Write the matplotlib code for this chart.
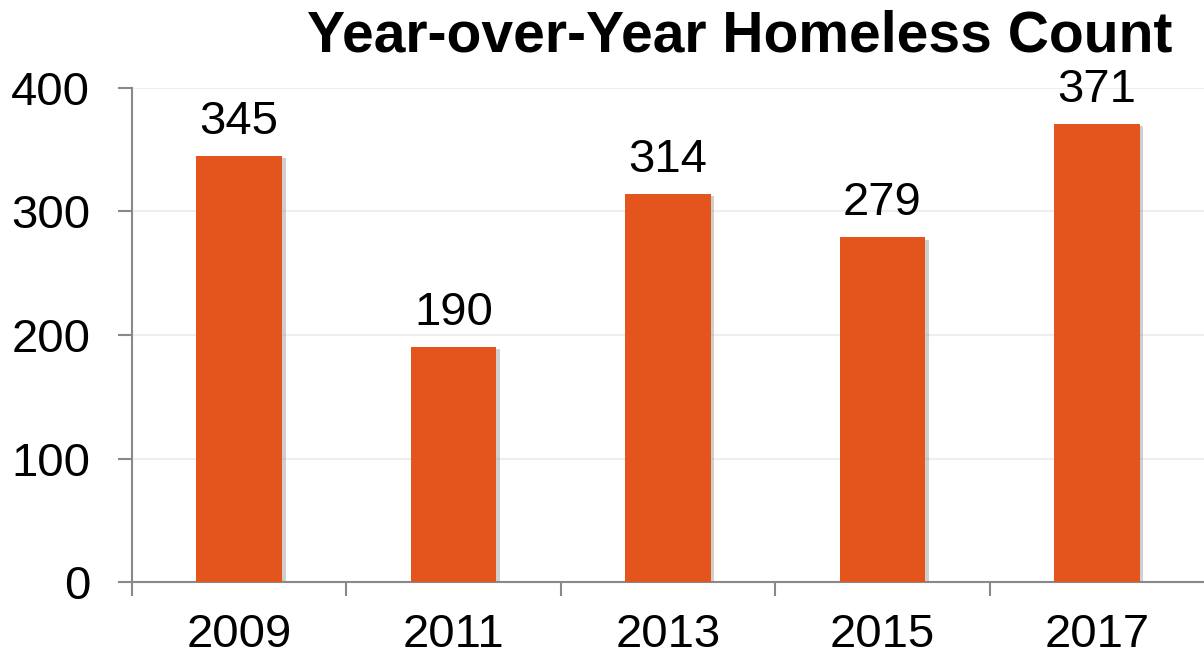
import matplotlib
matplotlib.use("Agg")
from matplotlib import pyplot as plt
import matplotlib.patheffects as pe
import numpy as np

# data
years = ["2009", "2011", "2013", "2015", "2017"]
counts = [345, 190, 314, 279, 371]
yticks = [0, 100, 200, 300, 400]

plt.rcParams["font.family"] = ["Liberation Sans", "DejaVu Sans"]

fig = plt.figure(figsize=(12.04, 6.6), dpi=100)
ax = fig.add_axes([132 / 1204, 1 - 582 / 660, 1 - 132 / 1204, (582 - 88) / 660])

x = np.arange(len(years))
bars = ax.bar(x, counts, width=0.4, color="#E4541D", zorder=3)
for b in bars:
    b.set_path_effects([pe.SimplePatchShadow(offset=(2.5, -1.5), shadow_rgbFace="#888888", alpha=0.4),
                        pe.Normal()])

for xi, v in zip(x, counts):
    ax.annotate(str(v), (xi, v), xytext=(0, 16), textcoords="offset points",
                ha="center", va="baseline", fontsize=34)

ax.set_xlim(-0.5, len(years) - 0.5)
ax.set_ylim(0, 400)
ax.set_yticks(yticks)
ax.set_yticklabels([str(t) for t in yticks])
ax.set_xticks(x)
ax.set_xticklabels(years)
ax.set_xticks(np.arange(-0.5, len(years) - 1, 1.0), minor=True)

ax.tick_params(axis="y", length=10, width=1.5, color="#898989", labelsize=34, pad=20)
ax.tick_params(axis="x", which="major", length=0, labelsize=34, pad=22)
ax.tick_params(axis="x", which="minor", length=10, width=1.5, color="#898989")

ax.grid(axis="y", color="#EEEEEE", linewidth=1.5, zorder=0)
for s in ["top", "right"]:
    ax.spines[s].set_visible(False)
for s in ["left", "bottom"]:
    ax.spines[s].set_color("#898989")
    ax.spines[s].set_linewidth(1.5)

fig.text(1172 / 1204, 1 - 52 / 660, "Year-over-Year Homeless Count", ha="right", va="baseline",
         fontsize=41, fontweight="bold")

fig.savefig("out.png", dpi=100)
